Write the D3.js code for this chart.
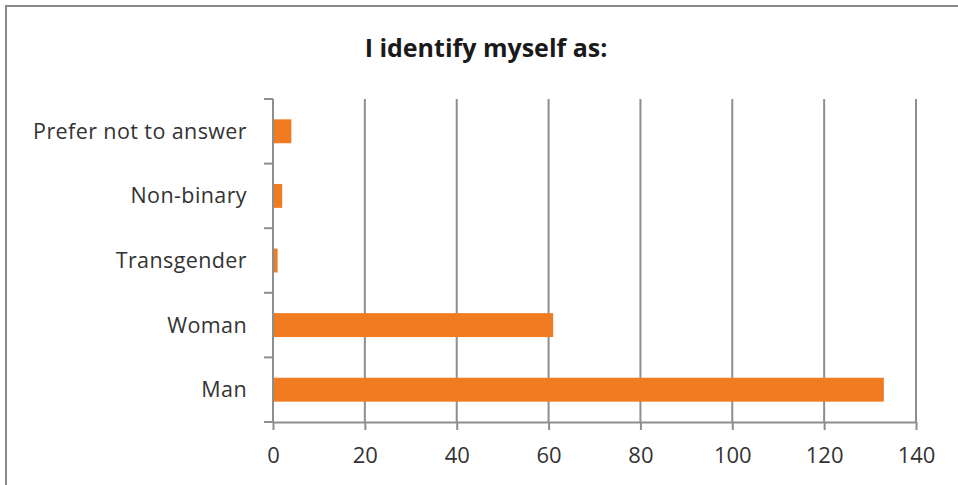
<!DOCTYPE html>
<html><head><meta charset="utf-8">
<script src="https://cdn.jsdelivr.net/npm/d3@7"></script>
<style>body{margin:0;background:#fff;} svg{display:block;}</style>
</head><body>
<svg id="chart" width="958" height="485"></svg>
<script>
const categories = ["Prefer not to answer", "Non-binary", "Transgender", "Woman", "Man"];
const values = [4, 2, 1, 61, 133];
const xTicks = [0, 20, 40, 60, 80, 100, 120, 140];
const title = "I identify myself as:";

const svg = d3.select("#chart");
const W = 958, H = 485;
const font = "'Open Sans', 'Liberation Sans', sans-serif";
const grid = "#8e8e8e";

// frame border (top and left visible)
svg.append("rect").attr("x", 6).attr("y", 6).attr("width", W + 10).attr("height", H + 10)
  .attr("fill", "#fff").attr("stroke", "#8a8a8a").attr("stroke-width", 2);

const m = {left: 273, right: 916, top: 99, bottom: 422};
const x = d3.scaleLinear().domain([0, 140]).range([m.left, m.right]);
const y = d3.scaleBand().domain(categories).range([m.top, m.bottom]).paddingInner(0.63).paddingOuter(0.315);

// vertical gridlines
svg.append("g").selectAll("line").data(xTicks.filter(d => d > 0)).join("line")
  .attr("x1", d => x(d)).attr("x2", d => x(d)).attr("y1", m.top).attr("y2", m.bottom)
  .attr("stroke", grid).attr("stroke-width", 2);

// bars
svg.append("g").selectAll("rect").data(categories).join("rect")
  .attr("x", x(0)).attr("y", d => y(d))
  .attr("width", (d, i) => x(values[i]) - x(0)).attr("height", y.bandwidth())
  .attr("fill", "#f07b21");

// x axis
const xAxis = d3.axisBottom(x).tickValues(xTicks).tickSize(8).tickPadding(17).tickSizeOuter(0);
const gx = svg.append("g").attr("transform", `translate(0,${m.bottom})`).call(xAxis);
gx.select(".domain").attr("stroke", grid).attr("stroke-width", 2);
gx.selectAll(".tick line").attr("stroke", grid).attr("stroke-width", 2);
gx.selectAll(".tick text").attr("font-family", font).attr("font-size", 22).attr("fill", "#333");

// y axis with boundary ticks
const ySc = d3.scaleLinear().domain([0, 5]).range([m.bottom, m.top]);
svg.append("line").attr("x1", m.left).attr("x2", m.left).attr("y1", m.top).attr("y2", m.bottom)
  .attr("stroke", grid).attr("stroke-width", 2);
svg.append("g").selectAll("line").data(d3.range(0, 6)).join("line")
  .attr("x1", m.left - 9).attr("x2", m.left).attr("y1", d => ySc(d)).attr("y2", d => ySc(d))
  .attr("stroke", grid).attr("stroke-width", 2);
svg.append("g").selectAll("text").data(categories).join("text")
  .attr("x", 247).attr("y", d => y(d) + y.bandwidth() / 2)
  .attr("dy", "0.35em").attr("text-anchor", "end")
  .attr("font-family", font).attr("font-size", 21.5).attr("letter-spacing", 0.4).attr("fill", "#333")
  .text(d => d);

// title
svg.append("text").attr("x", 486).attr("y", 57).attr("text-anchor", "middle")
  .attr("font-family", font).attr("font-weight", "bold").attr("font-size", 25).attr("fill", "#1a1a1a")
  .text(title);
</script>
</body></html>
